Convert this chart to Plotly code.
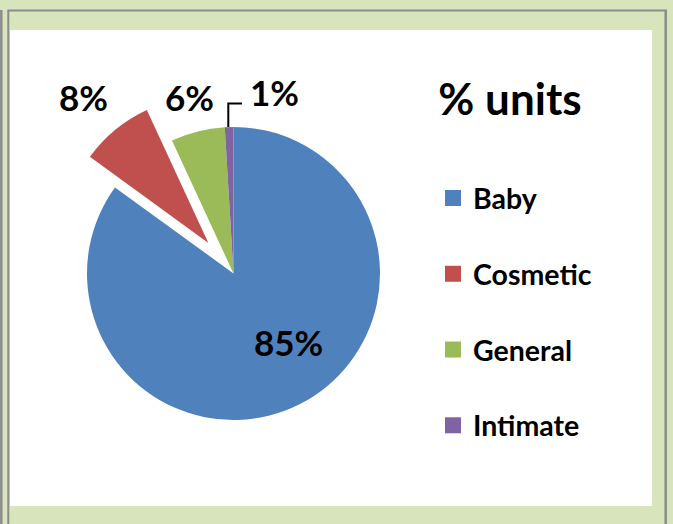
import math
import plotly.graph_objects as go

categories = ["Baby", "Cosmetic", "General", "Intimate"]
values = [85.0, 8.1, 5.95, 0.95]
colors = ["#4f81bd", "#c0504d", "#9bbb59", "#8064a2"]
pulls = [0, 0.27, 0, 0]
title_text = "% units"

W, H = 673, 524
FONT = "Lato"

def px(x):
    return x / W

def py(y):
    return 1 - y / H

fig = go.Figure()

# pie geometry (pixels): centre and radius
r = 146.5
cx, cy = 233.5, 273.5
side = r * 2 * (1 + max(pulls))
fig.add_trace(go.Pie(
    labels=categories,
    values=values,
    sort=False,
    direction="clockwise",
    rotation=0,
    pull=pulls,
    marker=dict(colors=colors, line=dict(width=0)),
    textposition="none",
    showlegend=False,
    hoverinfo="label+percent",
    domain=dict(x=[px(cx - side / 2), px(cx + side / 2)],
                y=[py(cy + side / 2), py(cy - side / 2)]),
))

# legend entries
for i, (cat, col) in enumerate(zip(categories, colors)):
    fig.add_trace(go.Scatter(
        x=[None], y=[None], mode="markers", name=cat,
        legendgroup=f"g{i}",
        marker=dict(symbol="square", size=18, color=col),
    ))

# data labels placed radially from each slice's mid-angle
label_dist = [0.6, 1.58, 1.24, 1.27]       # in radii
label_shift = [-12, -1, 0, 14.3]           # degrees
total = sum(values)
annotations = []
cum = 0
for i, v in enumerate(values):
    mid = (cum + v / 2) / total * 360
    cum += v
    a = math.radians(mid + label_shift[i])
    lx = cx + label_dist[i] * r * math.sin(a)
    ly = cy - label_dist[i] * r * math.cos(a)
    annotations.append(dict(
        x=px(lx), y=py(ly), xref="paper", yref="paper", showarrow=False,
        text=f"{round(v / total * 100)}%", xanchor="center", yanchor="middle",
        font=dict(family=FONT, size=35, color="black", weight="bold"),
    ))

shapes = [
    # white panel
    dict(type="rect", xref="paper", yref="paper", x0=px(10), x1=px(652), y0=py(506), y1=py(30),
         fillcolor="white", line=dict(width=0), layer="below"),
    # frame lines
    dict(type="line", xref="paper", yref="paper", x0=px(1.3), x1=px(1.3), y0=py(10), y1=0,
         line=dict(color="#8c8c8c", width=2.5), layer="below"),
    dict(type="line", xref="paper", yref="paper", x0=px(8.3), x1=px(8.3), y0=py(10), y1=0,
         line=dict(color="#8c8c8c", width=2), layer="below"),
    dict(type="line", xref="paper", yref="paper", x0=px(7.5), x1=px(667), y0=py(10.5), y1=py(10.5),
         line=dict(color="#8c8c8c", width=2), layer="below"),
    dict(type="line", xref="paper", yref="paper", x0=px(665.7), x1=px(665.7), y0=py(10), y1=0,
         line=dict(color="#8c8c8c", width=2.5), layer="below"),
    # leader line for the smallest slice
    dict(type="path", xref="paper", yref="paper",
         path=f"M {px(228.3)},{py(127)} L {px(228.3)},{py(103.5)} L {px(242)},{py(103.5)}",
         line=dict(color="black", width=2)),
]

fig.update_layout(
    width=W, height=H, autosize=False,
    margin=dict(l=0, r=0, t=0, b=0, pad=0, autoexpand=False),
    paper_bgcolor="#d8e4bc",
    plot_bgcolor="rgba(0,0,0,0)",
    xaxis=dict(visible=False),
    yaxis=dict(visible=False),
    shapes=shapes,
    annotations=annotations,
    title=dict(text=title_text, x=px(510), y=py(100), xanchor="center", yanchor="middle",
               font=dict(family=FONT, size=44, color="black", weight="bold")),
    legend=dict(x=px(433), y=py(173), xanchor="left", yanchor="top",
                font=dict(family=FONT, size=28.5, color="black", weight="bold"),
                bgcolor="rgba(0,0,0,0)", tracegroupgap=35.7, itemwidth=30),
)

fig.write_html("out.html", config={"displayModeBar": False},
               post_script="document.body.style.margin='0';")
